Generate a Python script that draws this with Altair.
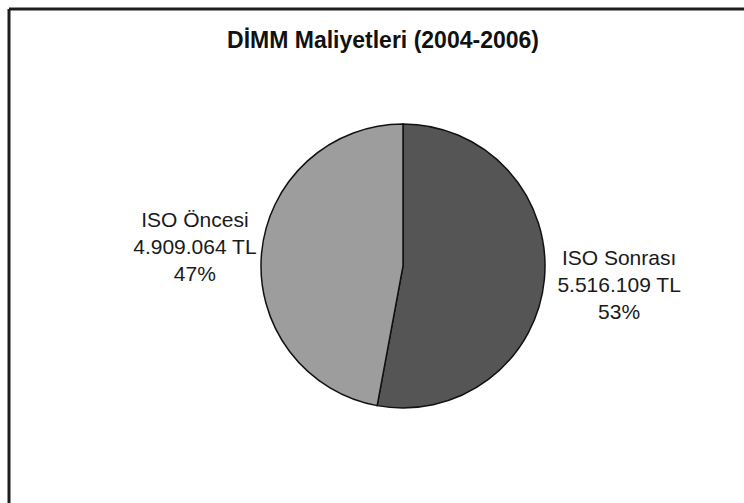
import altair as alt
import pandas as pd

title_text = "DİMM Maliyetleri (2004-2006)"
categories = ["ISO Sonrası", "ISO Öncesi"]
values = [5516109, 4909064]
slice_order = [1, 2]
colors = ["#555555", "#9d9d9d"]

total = sum(values)

def tr_fmt(v):
    return f"{v:,}".replace(",", ".")

labels = [
    f"{c}\n{tr_fmt(v)} TL\n{round(v / total * 100)}%"
    for c, v in zip(categories, values)
]

df = pd.DataFrame({
    "kategori": categories,
    "deger": values,
    "sira": slice_order,
    "etiket": labels,
})
title_df = pd.DataFrame({"baslik": [title_text]})

W, H = 735, 494
CX, CY = 394, 257

base = alt.Chart(df).encode(
    theta=alt.Theta("deger:Q", stack=True),
    order=alt.Order("sira:Q"),
)

pie = base.mark_arc(stroke="#111111", strokeWidth=1.5, radius=142).encode(
    x=alt.value(CX),
    y=alt.value(CY),
    color=alt.Color(
        "kategori:N",
        scale=alt.Scale(domain=categories, range=colors),
        legend=None,
    ),
)

text = base.mark_text(
    radius=213,
    font="Liberation Sans",
    fontSize=21,
    lineHeight=27,
    align="center",
    baseline="middle",
    lineBreak="\n",
    color="#1a1a1a",
    dx=4,
    dy=-26,
).encode(
    x=alt.value(CX),
    y=alt.value(CY),
    text="etiket:N",
)

title = alt.Chart(title_df).mark_text(
    font="Liberation Sans",
    fontSize=23,
    fontWeight="bold",
    color="#111111",
    align="center",
    baseline="alphabetic",
).encode(
    x=alt.value(374),
    y=alt.value(39),
    text="baslik:N",
)

frame_left = alt.Chart(title_df).mark_rule(color="#1e1e1e", strokeWidth=3).encode(
    x=alt.value(0), y=alt.value(0), y2=alt.value(H + 10)
)
frame_top = alt.Chart(title_df).mark_rule(color="#1e1e1e", strokeWidth=3).encode(
    x=alt.value(0), x2=alt.value(W + 10), y=alt.value(0)
)

chart = alt.layer(frame_left, frame_top, pie, text, title).properties(
    width=W,
    height=H,
    autosize="none",
    background="white",
    padding={"left": 9, "top": 9, "right": 0, "bottom": 0},
).configure_view(strokeWidth=0)

chart.save("out.html", embed_options={"renderer": "svg", "actions": False})
